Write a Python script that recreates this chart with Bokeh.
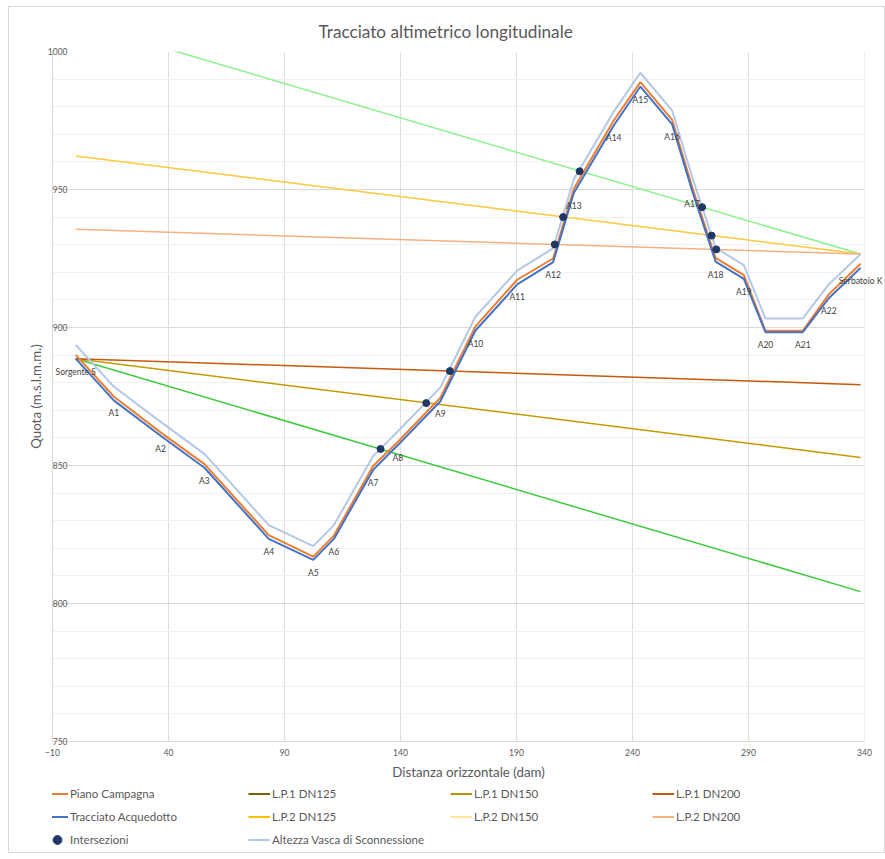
from bokeh.plotting import figure
from bokeh.layouts import column
from bokeh.models import (Range1d, FixedTicker, LabelSet, ColumnDataSource,
                          Legend, LegendItem, BoxAnnotation)
from bokeh.core.properties import value
from bokeh.embed import file_html
from bokeh.resources import INLINE

# ---------------- data ----------------
nodi = ["Sorgente S", "A1", "A2", "A3", "A4", "A5", "A6", "A7", "A8", "A9",
        "A10", "A11", "A12", "A13", "A14", "A15", "A16", "A17", "A18", "A19",
        "A20", "A21", "A22", "Serbatoio K"]
distanza = [0, 16.4, 36.6, 55.5, 83.2, 102.4, 111.3, 128.2, 138.9, 157.2,
            172.3, 190.3, 205.8, 214.7, 231.9, 243.4, 257.1, 265.7, 275.8, 288.0,
            297.3, 313.4, 324.6, 338.3]
tracciato = [888.7, 873.6, 860.8, 849.2, 823.4, 815.8, 823.4, 848.4, 857.4, 873.3,
             898.9, 915.6, 923.7, 948.7, 973.2, 987.3, 973.6, 949.6, 923.9, 917.6,
             898.3, 898.3, 910.6, 921.6]
piano_campagna = [890.1, 875.0, 862.0, 850.5, 824.8, 817.0, 824.6, 849.8, 858.6, 874.6,
                  900.4, 917.3, 925.0, 950.3, 975.0, 988.9, 975.2, 951.0, 925.2, 919.0,
                  898.8, 898.8, 912.0, 923.1]
altezza_vasca = [893.7, 878.6, 865.8, 854.2, 828.4, 820.8, 828.4, 853.4, 862.4, 878.3,
                 903.9, 920.6, 928.7, 953.7, 978.2, 992.3, 978.6, 954.6, 928.9, 922.6,
                 903.3, 903.3, 915.6, 926.6]

lp_x = [0, 338.3]
lp1_dn125 = [888.7, 804.3]
lp1_dn150 = [888.7, 852.9]
lp1_dn200 = [888.7, 879.3]
lp2_dn125 = [1010.8, 926.6]
lp2_dn150 = [962.1, 926.6]
lp2_dn200 = [935.6, 926.6]

int_x = [131.4, 151.1, 161.3, 206.5, 210.1, 217.2, 270.0, 274.1, 276.1]
int_y = [856.0, 872.6, 884.2, 930.1, 940.0, 956.6, 943.6, 933.3, 928.3]

x_ticks = [-10, 40, 90, 140, 190, 240, 290, 340]
y_ticks = [750, 800, 850, 900, 950, 1000]
y_minor = [760, 770, 780, 790, 810, 820, 830, 840, 860, 870, 880, 890,
           910, 920, 930, 940, 960, 970, 980, 990]

FONT = "Lato"
GRAY = "#595959"

X_END = x_ticks[-1]
# frame is widened past the last tick so the end label is not clipped
EXTRA_PX = 20
px_per_unit = 812 / (x_ticks[-1] - x_ticks[0])
x_extra = EXTRA_PX / px_per_unit

p = figure(frame_width=812 + EXTRA_PX, frame_height=690,
           x_range=Range1d(x_ticks[0], X_END + x_extra),
           y_range=Range1d(y_ticks[0], y_ticks[-1]),
           output_backend="svg", toolbar_location=None,
           min_border_left=43, min_border_right=0,
           min_border_top=44, min_border_bottom=41,
           title="Tracciato altimetrico longitudinale")
p.outline_line_color = None

p.title.align = "left"
p.title.vertical_align = "top"
p.title.text_font = FONT
p.title.text_font_size = "17.2px"
p.title.text_font_style = "normal"
p.title.text_color = GRAY
p.title.standoff = 15
p.title.offset = 266

p.xaxis.ticker = FixedTicker(ticks=x_ticks)
p.yaxis.ticker = FixedTicker(ticks=y_ticks, minor_ticks=y_minor)
p.xgrid.ticker = FixedTicker(ticks=x_ticks)
p.ygrid.ticker = FixedTicker(ticks=y_ticks, minor_ticks=y_minor)
p.xgrid.grid_line_color = "#dedede"
p.ygrid.grid_line_color = "#d9d9d9"
p.ygrid.minor_grid_line_color = "#f0f0f0"
p.xaxis.bounds = (x_ticks[0], X_END)

# blank strip past the end of the plot area
p.add_layout(BoxAnnotation(left=X_END, fill_color="white", fill_alpha=1,
                           line_color=None))

for ax in p.axis:
    ax.major_tick_out = 0
    ax.major_tick_in = 0
    ax.minor_tick_out = 0
    ax.minor_tick_in = 0
    ax.axis_line_color = "#d9d9d9"
    ax.major_label_text_font = FONT
    ax.major_label_text_font_size = "8.5px"
    ax.major_label_text_color = GRAY
    ax.axis_label_text_font = FONT
    ax.axis_label_text_font_size = "13.3px"
    ax.axis_label_text_font_style = "normal"
    ax.axis_label_text_color = GRAY

p.yaxis.axis_label = "Quota (m.s.l.m.m.)"
p.xaxis.axis_label = "Distanza orizzontale (dam)"
p.yaxis.major_label_standoff = -15
p.yaxis.axis_label_standoff = 1
p.xaxis.major_label_standoff = 7
p.xaxis.axis_label_standoff = 5

# ---------------- glyphs ----------------
p.line(lp_x, lp1_dn125, line_color="#3CCB3C", line_width=1.5)
p.line(lp_x, lp1_dn150, line_color="#C49A00", line_width=1.5)
p.line(lp_x, lp1_dn200, line_color="#C55A11", line_width=1.5)
p.line(lp_x, lp2_dn125, line_color="#8CF08C", line_width=1.5)
p.line(lp_x, lp2_dn150, line_color="#FFC83A", line_width=1.5)
p.line(lp_x, lp2_dn200, line_color="#F4B183", line_width=1.5)

p.line(distanza, altezza_vasca, line_color="#B4C7E7", line_width=2)
p.line(distanza, piano_campagna, line_color="#ED7D31", line_width=2)
p.line(distanza, tracciato, line_color="#4472C4", line_width=2)
p.scatter(int_x, int_y, size=7, fill_color="#1F3864", line_color="#1F3864")

src = ColumnDataSource(dict(x=distanza, y=tracciato, t=nodi))
labels = LabelSet(x="x", y="y", text="t", source=src, text_align="center",
                  text_baseline="middle", y_offset=-13, text_font=value(FONT),
                  text_font_size=value("8.5px"), text_color="#404040",
                  level="overlay")
p.add_layout(labels)

# ---------------- legend (separate strip under the chart) ----------------
q = figure(width=43 + 812 + EXTRA_PX, height=70, output_backend="svg",
           toolbar_location=None,
           x_axis_location=None, y_axis_location=None,
           x_range=Range1d(0, 1), y_range=Range1d(0, 1), min_border=0)
q.grid.visible = False
q.outline_line_color = None

leg_specs = [("Piano Campagna", "#ED7D31", "line"),
             ("L.P.1 DN125", "#7F6000", "line"),
             ("L.P.1 DN150", "#BF9000", "line"),
             ("L.P.1 DN200", "#C55A11", "line"),
             ("Tracciato Acquedotto", "#4472C4", "line"),
             ("L.P.2 DN125", "#FFC000", "line"),
             ("L.P.2 DN150", "#FFE699", "line"),
             ("L.P.2 DN200", "#F4B183", "line"),
             ("Intersezioni", "#1F3864", "dot"),
             ("Altezza Vasca di Sconnessione", "#B4C7E7", "line")]
nan = float("nan")
items = []
for name, col, kind in leg_specs:
    if kind == "dot":
        r = q.scatter([nan], [nan], size=5, fill_color=col, line_color=col)
    else:
        r = q.line([nan, nan], [nan, nan], line_color=col, line_width=2)
    items.append(LegendItem(label=name, renderers=[r]))

legend = Legend(items=items, orientation="horizontal", ncols=4,
                location=(-6, 1), glyph_width=22, glyph_height=23,
                label_height=23, label_width=178, label_standoff=2,
                spacing=0, padding=0, margin=0, border_line_color=None,
                background_fill_alpha=0, label_text_font=FONT,
                label_text_font_size="11.5px", label_text_color=GRAY)
q.add_layout(legend)

layout = column(p, q, spacing=0, margin=(7, 0, 0, 9),
                styles={"outline": "1px solid #d9d9d9"})

open("out.html", "w").write(file_html(layout, INLINE))
